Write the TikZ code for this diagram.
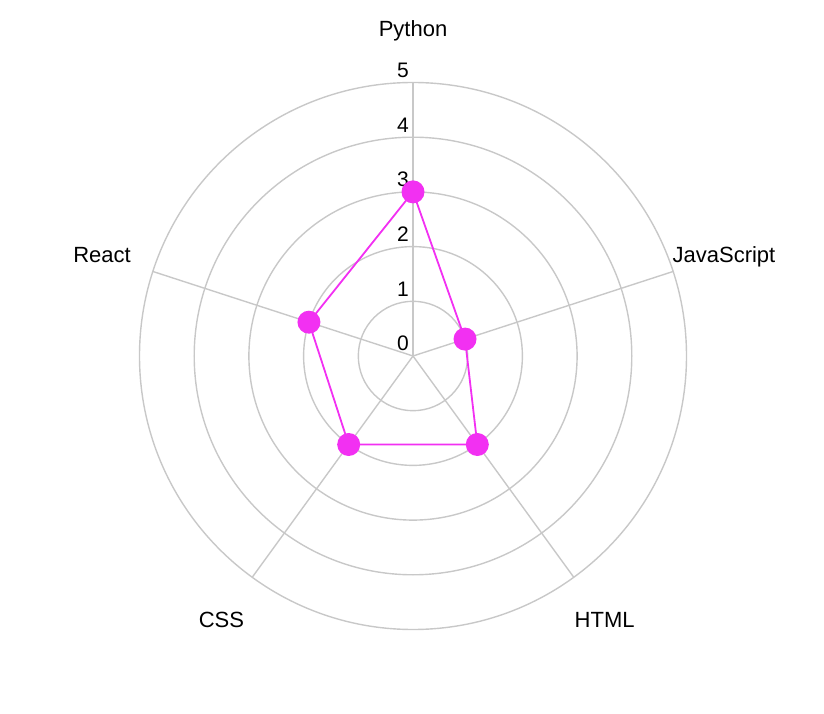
\documentclass[tikz,border=0pt]{standalone}
\usepackage{fontspec}
\setmainfont{Liberation Sans}
\usepackage{xcolor}
\definecolor{gridgray}{RGB}{200,200,200}
\definecolor{skillmag}{RGB}{242,48,242}
\tikzset{
  grid/.style={draw=gridgray, line width=1.4pt},
  dot/.style={circle, fill=skillmag, inner sep=0pt, minimum size=23pt},
  lbl/.style={inner sep=0pt, text height=16pt, text depth=0pt, font=\fontsize{22}{26}\selectfont},
  tick/.style={inner sep=0pt, anchor=base east, font=\fontsize{21}{25}\selectfont}
}
\begin{document}
\begin{tikzpicture}[x=1pt, y=1pt]
        \useasboundingbox (-413, -358) rectangle (411, 356);

        \coordinate (o) at (0, 0);
        \coordinate (apy) at (90:273.5);
        \coordinate (ajs) at (18:273.5);
        \coordinate (aht) at (-54:273.5);
        \coordinate (acs) at (-126:273.5);
        \coordinate (are) at (162:273.5);

        \draw [grid] (o) circle (54.7);
        \draw [grid] (o) circle (109.4);
        \draw [grid] (o) circle (164.1);
        \draw [grid] (o) circle (218.8);
        \draw [grid] (o) circle (273.5);

        \draw [grid] (o) -- (apy);
        \draw [grid] (o) -- (ajs);
        \draw [grid] (o) -- (aht);
        \draw [grid] (o) -- (acs);
        \draw [grid] (o) -- (are);

        \node[tick] at (-4, 5)     (t0) {0};
        \node[tick] at (-4, 59.7)  (t1) {1};
        \node[tick] at (-4, 114.4) (t2) {2};
        \node[tick] at (-4, 169.1) (t3) {3};
        \node[tick] at (-4, 223.8) (t4) {4};
        \node[tick] at (-4, 278.5) (t5) {5};

        \node[lbl] at (90:327)  (lpy) {Python};
        \node[lbl] at (18:327)  (ljs) {JavaScript};
        \node[lbl] at (-54:326) (lht) {HTML};
        \node[lbl] at (-126:326) (lcs) {CSS};
        \node[lbl] at (162:327) (lre) {React};

        \node[dot] at (90:164.1)   (py) {};
        \node[dot] at (18:54.7)    (js) {};
        \node[dot] at (-54:109.4)  (ht) {};
        \node[dot] at (-126:109.4) (cs) {};
        \node[dot] at (162:109.4)  (re) {};

        \draw [skillmag, line width=1.8pt] (py.center) -- (js.center) -- (ht.center)
              -- (cs.center) -- (re.center) -- cycle;
\end{tikzpicture}
\end{document}
